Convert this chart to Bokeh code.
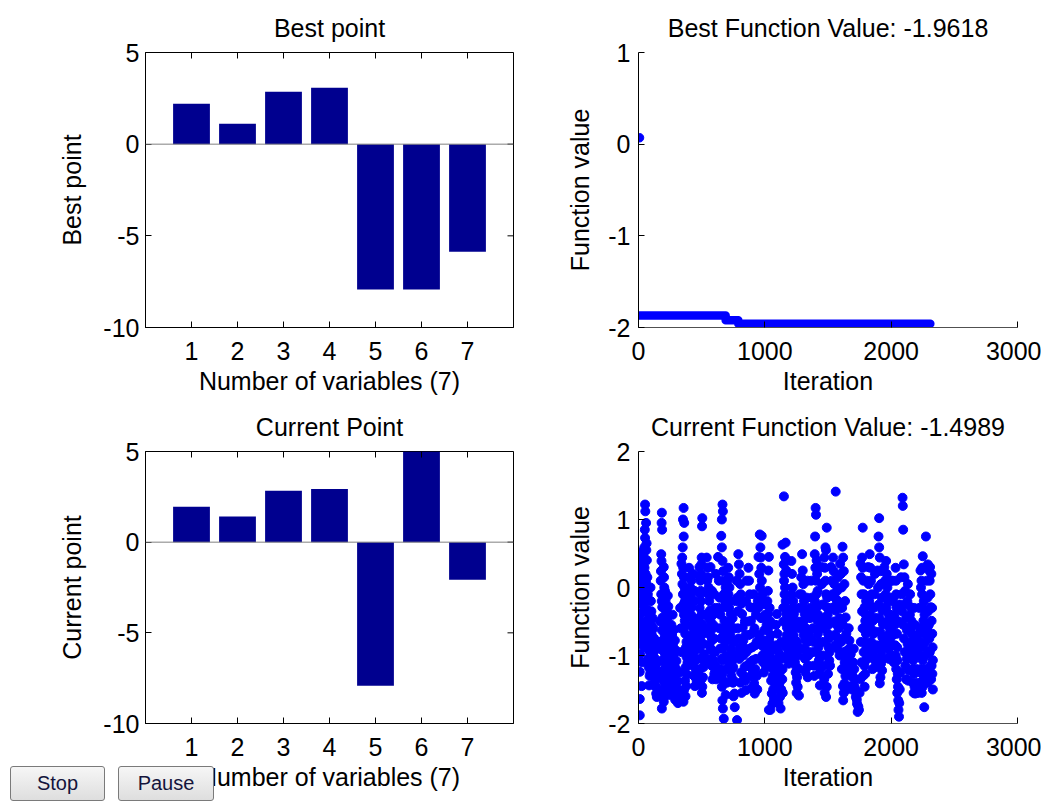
import math
from bokeh.plotting import figure
from bokeh.layouts import column, row
from bokeh.models import Range1d, FixedTicker, Span, Div
from bokeh.embed import file_html
from bokeh.resources import INLINE

FONT = "Liberation Sans"
FS = "25px"
BAR_COLOR = "#00008F"
DOT_COLOR = "#0000FF"

# ---------------- data ----------------
variables = [1, 2, 3, 4, 5, 6, 7]
best_point = [2.21, 1.11, 2.86, 3.08, -7.93, -7.93, -5.87]
current_point = [1.96, 1.41, 2.83, 2.93, -7.92, 5.0, -2.07]

best_title = "Best Function Value: -1.9618"
current_title = "Current Function Value: -1.4989"
button_labels = ["Stop", "Pause"]

bar_xlim = (0, 8)
bar_yticks = [-10, -5, 0, 5]
iter_ticks = [0, 1000, 2000, 3000]
best_fv_ticks = [-2, -1, 0, 1]
cur_fv_ticks = [-2, -1, 0, 1, 2]

# best function value: initial point and the step levels (iteration where level starts)
best_init_iter = [8]
best_init_val = [0.07]
best_step_iter = [8, 690, 790, 2310]
best_step_val = [-1.87, -1.92, -1.96, -1.96]

# current function value samples (iteration, value), read column by column
current_pts = [
    (10, -1.88), (10, -1.64), (10, -1.24), (12, -0.98), (14, -0.83), (10, -0.60), (14, -0.39), (16, -0.20),
    (13, -0.07), (15, 0.00), (18, 0.07), (16, 0.15), (20, 0.27), (22, 0.37), (24, 0.52),
    (52, 1.22), (54, 1.12), (50, 0.85), (52, 0.73), (46, 0.59), (40, 0.46), (44, 0.39), (48, 0.29),
    (56, 0.20), (60, 0.07), (58, -0.05), (62, -0.20), (66, -0.32), (70, -0.49), (68, -0.63), (64, -0.78),
    (72, -0.90), (76, -1.05), (80, -1.17), (84, -1.44), (30, 0.30), (34, 0.10), (36, -0.12), (38, -0.35),
    (42, -0.55), (45, -0.72), (48, -0.88), (88, -1.30),
    (100, -0.55), (104, -0.68), (110, -0.83), (115, -0.98), (120, -1.12), (126, -1.27), (130, -1.37),
    (135, -1.46), (140, -1.56), (145, -1.61), (98, -0.20), (102, -0.35), (95, 0.00),
    (185, 1.10), (183, 0.95), (187, 0.85), (180, 0.49), (182, 0.39), (178, 0.24), (176, 0.10), (180, -0.10),
    (184, -0.20), (188, -0.29), (190, -0.44), (186, -0.63), (192, -0.78), (194, -0.93), (190, -1.07),
    (196, -1.22), (200, -1.39), (198, -1.51), (185, -1.78), (170, -0.50), (165, -0.80), (172, -1.30),
    (210, -0.05), (214, -0.20), (218, -0.35), (222, -0.48), (226, -0.62), (230, -0.72), (234, -0.85),
    (238, -0.98), (242, -1.10), (246, -1.25), (250, -1.40), (240, -1.50), (228, -1.15), (216, -0.60), (205, -0.30),
    (260, -0.55), (266, -0.70), (272, -0.85), (278, -1.00), (284, -1.15), (290, -1.28), (296, -1.40),
    (302, -1.52), (308, -1.62), (312, -1.70), (275, -1.30), (285, -1.55), (300, -1.20), (270, -0.40),
    (357, 1.17), (352, 1.00), (362, 0.95), (358, 0.75), (350, 0.59), (346, 0.44), (354, 0.29), (360, 0.15),
    (364, 0.00), (368, -0.20), (372, -0.34), (366, -0.49), (370, -0.68), (376, -0.88), (380, -1.02),
    (374, -1.17), (368, -1.37), (360, -1.51), (356, -1.68), (330, -0.30), (335, -0.60), (340, -0.95), (325, -1.25),
    (400, 0.29), (405, 0.15), (410, 0.00), (415, -0.15), (420, -0.29), (425, -0.44), (430, -0.59),
    (435, -0.68), (440, -0.78), (445, -0.93), (450, -1.07), (455, -1.22), (460, -1.37), (395, -0.40),
    (412, -0.75), (425, -1.00), (438, -0.20), (448, -0.50),
    (505, 1.02), (503, 0.90), (500, 0.44), (498, 0.34), (495, 0.20), (490, 0.10), (492, -0.05), (496, -0.20),
    (500, -0.39), (505, -0.54), (510, -0.68), (515, -0.83), (520, -0.98), (515, -1.17), (510, -1.32),
    (505, -1.46), (475, -0.60), (480, -0.90), (485, -1.20),
    (540, 0.44), (545, 0.29), (550, 0.15), (555, 0.00), (560, -0.20), (565, -0.34), (570, -0.49),
    (575, -0.63), (580, -0.78), (585, -0.93), (590, -1.07), (595, -1.17), (600, -1.27), (548, -0.60),
    (560, -0.85), (575, -1.05), (590, -0.40), (600, -0.10),
    (665, 1.22), (668, 1.12), (660, 1.00), (655, 0.76), (660, 0.59), (665, 0.39), (670, 0.24), (672, 0.10),
    (675, -0.10), (678, -0.29), (680, -0.49), (676, -0.68), (672, -0.88), (668, -1.07), (664, -1.27),
    (660, -1.46), (664, -1.66), (668, -1.78), (675, -1.93), (640, -0.60), (645, -0.90), (650, -1.20), (635, -0.30),
    (710, 0.29), (715, 0.15), (720, 0.00), (725, -0.20), (730, -0.39), (735, -0.59), (740, -0.78),
    (745, -0.98), (750, -1.17), (755, -1.37), (760, -1.56), (762, -1.76), (720, -1.10), (735, -1.30), (745, -0.45),
    (790, 0.49), (795, 0.34), (800, 0.20), (805, 0.05), (810, -0.10), (815, -0.24), (820, -0.39),
    (825, -0.59), (830, -0.78), (835, -0.98), (840, -1.17), (845, -1.37), (850, -1.51), (780, -1.95),
    (785, -0.60), (800, -0.90), (812, -1.25),
    (870, 0.29), (875, 0.10), (880, -0.10), (885, -0.29), (890, -0.49), (895, -0.68), (900, -0.88),
    (905, -1.07), (910, -1.27), (915, -1.41), (920, -1.56), (930, -0.40), (935, -0.80), (925, -1.20),
    (960, 0.78), (975, 0.76), (965, 0.59), (968, 0.44), (972, 0.29), (976, 0.10), (980, -0.10), (985, -0.24),
    (990, -0.44), (995, -0.63), (1000, -0.78), (1005, -0.93), (1010, -1.17), (950, -0.30), (955, -0.70),
    (1020, -0.20), (1025, -0.39), (1030, -0.59), (1035, -0.78), (1040, -0.98), (1045, -1.17), (1050, -1.37),
    (1055, -1.56), (1060, -1.71), (1032, -1.80), (1070, -1.20), (1075, -0.90),
    (1095, -0.39), (1100, -0.68), (1105, -0.93), (1110, -1.17), (1115, -1.41), (1120, -1.61), (1125, -1.78),
    (1130, -1.50), (1140, -1.20),
    (1151, 1.34), (1165, 0.66), (1140, 0.63), (1150, 0.34), (1155, 0.20), (1160, 0.00), (1165, -0.20),
    (1170, -0.39), (1175, -0.59), (1180, -0.78), (1185, -0.98), (1190, -1.12), (1145, -0.50), (1158, -0.85),
    (1210, 0.39), (1215, 0.20), (1220, 0.00), (1225, -0.20), (1230, -0.39), (1235, -0.59), (1240, -0.78),
    (1245, -0.98), (1250, -1.17), (1255, -1.32), (1260, -1.46), (1270, -1.59), (1265, -0.50), (1275, -0.10),
    (1295, 0.49), (1300, 0.25), (1305, 0.05), (1310, -0.20), (1315, -0.39), (1320, -0.59), (1325, -0.78),
    (1330, -0.98), (1335, -1.17), (1340, -1.32), (1350, -0.65), (1355, -0.30), (1345, -1.00),
    (1402, 1.17), (1405, 1.07), (1398, 0.75), (1395, 0.49), (1400, 0.29), (1404, 0.10), (1408, -0.10),
    (1412, -0.29), (1416, -0.49), (1420, -0.68), (1424, -0.88), (1428, -1.07), (1432, -1.27), (1436, -1.44),
    (1375, -0.40), (1385, -0.80),
    (1490, 0.88), (1480, 0.59), (1470, 0.44), (1475, 0.29), (1480, 0.10), (1485, -0.10), (1490, -0.29),
    (1495, -0.49), (1500, -0.68), (1505, -0.88), (1510, -1.07), (1500, -1.27), (1490, -1.46), (1485, -1.61),
    (1455, -0.60), (1460, -1.00),
    (1561, 1.41), (1540, 0.44), (1545, 0.24), (1550, 0.05), (1555, -0.15), (1560, -0.34), (1565, -0.54),
    (1570, -0.73), (1575, -0.90), (1580, -0.20), (1590, -0.45),
    (1615, 0.60), (1620, 0.44), (1625, 0.24), (1630, 0.05), (1635, -0.20), (1640, -0.44), (1645, -0.68),
    (1650, -0.93), (1640, -1.17), (1630, -1.41), (1620, -1.66), (1610, -1.20), (1605, -0.80),
    (1670, -0.78), (1680, -0.98), (1690, -1.17), (1700, -1.32), (1710, -1.46), (1720, -1.61), (1730, -1.71),
    (1735, -1.83), (1745, -1.80), (1690, -1.50), (1660, -1.25),
    (1775, 0.88), (1770, 0.44), (1775, 0.29), (1780, 0.10), (1785, -0.10), (1790, -0.29), (1795, -0.49),
    (1800, -0.68), (1805, -0.88), (1800, -1.07), (1795, -1.27), (1790, -1.46), (1760, -0.80), (1765, -1.10),
    (1830, 0.49), (1835, 0.29), (1840, 0.10), (1845, -0.10), (1850, -0.29), (1855, -0.49), (1860, -0.68),
    (1865, -0.88), (1870, -1.07), (1875, -1.17), (1880, -0.45),
    (1905, 1.02), (1900, 0.75), (1905, 0.59), (1910, 0.44), (1915, 0.24), (1920, 0.05), (1925, -0.15),
    (1930, -0.34), (1935, -0.54), (1930, -0.73), (1925, -0.93), (1920, -1.12), (1915, -1.32), (1910, -1.41),
    (1960, 0.39), (1965, 0.20), (1970, 0.00), (1975, -0.20), (1980, -0.39), (1985, -0.59), (1990, -0.78),
    (1995, -0.98), (2000, -0.60), (2005, -0.20),
    (2035, 0.29), (2038, 0.10), (2040, -0.10), (2042, -0.29), (2044, -0.49), (2046, -0.68), (2048, -0.88),
    (2050, -1.07), (2052, -1.27), (2054, -1.46), (2056, -1.66), (2058, -1.80), (2062, -1.90), (2015, -0.70),
    (2020, -1.10),
    (2090, 1.32), (2092, 1.20), (2095, 0.85), (2100, 0.34), (2105, 0.15), (2110, -0.05), (2115, -0.24),
    (2120, -0.44), (2125, -0.63), (2130, -0.83), (2135, -1.02), (2140, -1.22), (2135, -1.37),
    (2150, -0.10), (2155, -0.29), (2160, -0.49), (2165, -0.68), (2170, -0.88), (2175, -1.07), (2180, -1.27),
    (2185, -1.46), (2190, -1.56), (2200, -1.20), (2205, -0.70),
    (2275, 0.75), (2250, 0.46), (2245, 0.29), (2240, 0.10), (2245, -0.10), (2250, -0.29), (2255, -0.49),
    (2260, -0.68), (2255, -0.88), (2250, -1.07), (2245, -1.27), (2250, -1.46), (2262, -1.76), (2230, -0.60),
    (2225, -1.00),
    (2290, 0.34), (2300, 0.25), (2305, 0.10), (2310, -0.10), (2315, -0.29), (2320, -0.49), (2325, -0.68),
    (2328, -0.88), (2330, -1.07), (2326, -1.27), (2330, -1.50), (2285, -0.60), (2295, -0.95),
]

# further samples read from the dense parts of the cloud
current_pts_dense = [
    (25, -1.45), (28, -1.10), (26, -0.70), (30, -0.50), (28, -0.25), (32, 0.20), (34, 0.45),
    (62, 0.55), (66, 0.40), (70, 0.15), (74, -0.10), (78, -0.40), (82, -0.58), (86, -0.75), (90, -0.95),
    (92, -1.10), (94, -1.25), (60, 0.95), (64, 0.65),
    (112, -0.45), (118, -0.60), (124, -0.75), (128, -0.90), (134, -1.05), (138, -1.20), (142, -1.33),
    (148, -1.48), (152, -1.30), (150, -1.10), (156, -0.90),
    (200, 0.30), (202, 0.15), (204, 0.00), (206, -0.55), (208, -0.70), (210, -0.88), (212, -1.00),
    (214, -1.15), (216, -1.30), (218, -1.45), (205, -1.60), (200, -1.68),
    (232, -0.12), (236, -0.28), (240, -0.42), (244, -0.55), (248, -0.68), (252, -0.80), (256, -0.92),
    (258, -1.05), (255, -1.18), (252, -1.32), (248, -1.45), (244, -1.58),
    (282, -0.62), (288, -0.78), (294, -0.92), (300, -1.08), (306, -1.25), (312, -1.38), (316, -1.50),
    (320, -1.62), (290, -1.65), (296, -1.58),
    (340, 0.35), (344, 0.20), (348, 0.05), (352, -0.10), (356, -0.25), (360, -0.40), (364, -0.58),
    (380, -0.80), (384, -0.95), (388, -1.10), (384, -1.28), (378, -1.45), (372, -1.60),
    (402, -0.10), (408, -0.25), (416, -0.40), (422, -0.55), (428, -0.85), (432, -1.15), (440, -1.30),
    (446, -1.45), (452, -0.65), (458, -0.85), (464, -1.05), (468, -1.25), (418, 0.10), (430, 0.20), (444, -0.05),
    (482, 0.30), (486, 0.15), (488, -0.10), (484, -0.30), (478, -0.45), (488, -0.75), (494, -1.05),
    (498, -1.35), (502, -1.55), (520, -0.60), (525, -0.40), (528, -1.10),
    (544, 0.10), (552, -0.10), (558, -0.45), (566, -0.70), (572, -0.90), (580, -1.15), (586, -1.35),
    (592, -0.55), (598, -0.75), (604, -0.95), (610, -1.15), (614, -1.35), (608, -0.30), (612, 0.20),
    (570, 0.30), (582, -0.05),
    (630, 0.45), (636, 0.10), (642, -0.15), (648, -0.40), (652, -0.75), (656, -1.05), (662, -1.35),
    (684, -0.60), (688, -0.80), (692, -1.00), (696, -1.20), (700, -1.40), (690, -1.58), (686, -0.20), (690, 0.00),
    (705, 0.10), (712, -0.10), (718, -0.30), (724, -0.50), (728, -0.70), (732, -0.90), (738, -1.10),
    (742, -1.20), (748, -1.40), (752, -1.60), (756, -0.60), (760, -0.80), (765, -1.00), (768, -0.20),
    (776, 0.10), (782, -0.15), (788, -0.35), (794, -0.75), (798, -1.05), (806, -1.40), (816, -1.55),
    (822, -0.85), (828, -1.00), (834, -1.30), (842, -0.50), (848, -0.70), (854, -0.95), (858, -1.15),
    (852, -0.20), (856, 0.10),
    (866, -0.50), (872, -0.70), (878, -0.90), (884, -1.10), (888, -1.30), (894, -1.48), (900, -1.20),
    (906, -0.30), (912, -0.10), (918, -0.60), (924, -0.85), (930, -1.05), (936, -1.30), (940, -1.50), (944, -0.20),
    (950, 0.45), (956, 0.20), (962, 0.00), (966, -0.20), (970, -0.45), (975, -0.85), (980, -1.00),
    (986, -1.10), (992, -1.25), (998, -1.05), (1004, -0.40), (1010, -0.25), (1014, -0.55), (1018, -0.85),
    (1024, -0.05), (1028, 0.25), (1032, 0.45), (1038, -0.30), (1044, -0.50), (1048, -0.70), (1052, -0.90),
    (1058, -1.10), (1062, -1.30), (1066, -1.50), (1072, -1.65), (1078, -1.40), (1082, -1.10), (1044, -1.80),
    (1088, -0.55), (1092, -0.85), (1096, -1.05), (1100, -1.30), (1104, -1.50), (1108, -1.70), (1118, -1.25),
    (1124, -1.00), (1130, -0.80), (1134, -1.05), (1138, -1.35), (1142, -1.55), (1146, -0.30),
    (1152, 0.10), (1156, -0.10), (1162, -0.30), (1168, -0.50), (1172, -0.70), (1178, -0.90), (1182, -1.05),
    (1188, -0.60), (1194, -0.40), (1198, -0.80), (1202, -1.00), (1160, 0.45), (1170, 0.25),
    (1212, -0.10), (1218, -0.30), (1222, -0.50), (1228, -0.70), (1232, -0.90), (1238, -1.10), (1244, -1.25),
    (1248, -1.40), (1252, -1.55), (1258, -0.80), (1262, -1.00), (1268, -1.20), (1272, -0.30), (1278, -0.60),
    (1282, -0.90),
    (1288, 0.15), (1292, -0.10), (1298, -0.30), (1302, -0.50), (1308, -0.70), (1312, -0.90), (1318, -1.05),
    (1322, -1.25), (1328, -0.45), (1334, -0.15), (1338, 0.10), (1342, -0.80), (1348, -1.15), (1352, -0.95),
    (1358, -0.45), (1362, -0.75),
    (1368, 0.10), (1372, -0.15), (1378, -0.60), (1382, -0.95), (1388, -1.15), (1392, -1.30), (1396, -0.20),
    (1410, 0.40), (1414, 0.20), (1418, -0.05), (1422, -0.40), (1426, -0.60), (1430, -0.80), (1434, -1.00),
    (1438, -1.20), (1440, -0.50),
    (1448, 0.30), (1452, 0.05), (1458, -0.25), (1462, -0.80), (1466, -1.15), (1470, -1.35), (1474, -1.55),
    (1478, -0.45), (1484, 0.55), (1494, -0.15), (1498, -0.40), (1504, -0.55), (1508, -0.75), (1512, -0.95),
    (1516, -1.15), (1520, -0.30),
    (1525, 0.30), (1530, 0.10), (1535, -0.10), (1540, -0.30), (1548, -0.50), (1552, -0.70), (1558, -0.85),
    (1566, -0.25), (1572, -0.05), (1578, 0.15), (1584, -0.60), (1588, -0.80), (1592, -1.00), (1596, 0.35),
    (1598, -0.30),
    (1602, 0.20), (1608, 0.00), (1612, -0.30), (1618, -0.55), (1622, -0.75), (1628, -0.95), (1632, -1.10),
    (1638, -1.30), (1644, -1.50), (1650, -1.25), (1655, -1.05), (1625, -1.55), (1618, -1.45),
    (1664, -0.60), (1668, -0.90), (1674, -1.10), (1678, -1.30), (1684, -1.45), (1694, -1.30), (1698, -1.10),
    (1704, -0.90), (1708, -1.20), (1714, -1.35), (1718, -1.50), (1724, -1.55), (1728, -1.65), (1740, -1.75),
    (1750, -1.55), (1755, -1.35),
    (1758, 0.35), (1762, 0.15), (1766, -0.10), (1770, -0.35), (1774, -0.60), (1778, -1.30), (1782, -0.95),
    (1788, -1.15), (1792, -0.80), (1798, -0.40), (1802, -0.20), (1806, 0.10), (1810, -0.55), (1812, -1.00),
    (1818, 0.30), (1822, 0.05), (1826, -0.20), (1832, -0.40), (1838, -0.60), (1842, -0.80), (1848, -1.00),
    (1852, -1.20), (1858, -0.95), (1862, -0.30), (1868, -0.10), (1872, 0.20), (1876, -0.65), (1884, -0.85),
    (1888, -1.05),
    (1892, 0.25), (1896, 0.00), (1902, -0.25), (1908, -0.45), (1912, -0.65), (1918, -0.85), (1922, -1.00),
    (1928, -1.22), (1934, -1.05), (1938, -0.80), (1942, -0.30), (1946, 0.30),
    (1952, 0.10), (1956, -0.10), (1962, -0.30), (1968, -0.50), (1972, -0.70), (1978, -0.90), (1982, -1.05),
    (1988, -0.40), (1994, -0.15), (1998, 0.10), (2002, -0.85), (2008, -0.45),
    (2012, 0.10), (2018, -0.15), (2024, -0.40), (2028, -0.55), (2032, -0.85), (2036, -1.00), (2040, -1.20),
    (2044, -1.35), (2048, -1.55), (2064, -1.70), (2068, -1.50), (2072, -1.25), (2060, -0.50), (2066, -0.25),
    (2078, 0.15), (2082, -0.10), (2086, -0.35), (2096, -0.55), (2102, -0.75), (2108, -0.95), (2112, -1.15),
    (2118, -1.35), (2124, -1.05), (2128, -0.20), (2132, 0.05), (2138, -0.60), (2142, -0.90),
    (2148, -0.40), (2152, -0.60), (2158, -0.80), (2162, -1.00), (2168, -1.20), (2172, -1.40), (2178, -1.55),
    (2182, -0.30), (2188, -0.55), (2194, -0.80), (2198, -1.00), (2208, -1.40), (2212, -1.55), (2216, -0.90),
    (2222, -0.30), (2228, -0.80), (2234, -1.20), (2238, -1.40), (2242, -1.55), (2258, -0.20), (2264, -0.40),
    (2268, -0.60), (2272, -0.80), (2270, -1.00), (2266, -1.20), (2262, -1.35), (2236, 0.00), (2232, 0.25),
    (2282, 0.10), (2288, -0.15), (2292, -0.35), (2298, -0.55), (2302, -0.75), (2306, -0.95), (2312, -1.15),
    (2316, -1.35), (2320, -1.15), (2324, -0.30), (2318, 0.20), (2308, 0.30), (2296, -1.25), (2290, -1.40),
]

all_current = current_pts + current_pts_dense
cur_iter = [t for t, v in all_current]
cur_val = [v for t, v in all_current]


# ---------------- helpers ----------------
def make_fig(w, h, bl, br, bt, bb, xr, yr, title):
    p = figure(width=w, height=h, x_range=Range1d(*xr), y_range=Range1d(*yr),
               output_backend="svg", toolbar_location=None, title=title,
               min_border_left=bl, min_border_right=br, min_border_top=bt, min_border_bottom=bb)
    p.title.text_font = FONT
    p.title.text_font_size = FS
    p.title.text_font_style = "normal"
    p.title.text_color = "black"
    p.title.text_line_height = 1.0
    p.title.align = "center"
    p.title.standoff = 21
    p.grid.visible = False
    p.background_fill_color = "white"
    p.border_fill_color = "white"
    return p


def style_axis(ax, ticks, label, label_standoff, tick_standoff, line_color="black"):
    ax.ticker = FixedTicker(ticks=ticks)
    ax.major_label_overrides = {t: str(t) for t in ticks}
    ax.major_tick_in = 6
    ax.major_tick_out = 0
    ax.minor_tick_line_color = None
    ax.axis_line_color = line_color
    ax.major_tick_line_color = "black"
    ax.major_label_text_font = FONT
    ax.major_label_text_font_size = FS
    ax.major_label_text_color = "black"
    ax.major_label_standoff = tick_standoff
    ax.axis_label = label
    ax.axis_label_text_font = FONT
    ax.axis_label_text_font_size = FS
    ax.axis_label_text_font_style = "normal"
    ax.axis_label_text_color = "black"
    ax.axis_label_standoff = label_standoff


def bar_plot(values, title, ylabel, h, bt, bb):
    p = make_fig(530, h, 145, 17, bt, bb, bar_xlim, (bar_yticks[0], bar_yticks[-1]), title)
    p.outline_line_color = "black"
    p.vbar(x=variables, top=values, bottom=0, width=0.8, color=BAR_COLOR, line_color=None)
    p.add_layout(Span(location=0, dimension="width", line_color="#808080", line_width=1))
    # inward tick marks on the top and right edges of the box (half of each mark is clipped by the frame)
    p.scatter(x=variables, y=[bar_yticks[-1]] * len(variables), marker="dash", size=12,
              angle=math.pi / 2, line_color="black", line_width=1)
    p.scatter(x=[bar_xlim[1]] * len(bar_yticks), y=bar_yticks, marker="dash", size=12,
              line_color="black", line_width=1)
    style_axis(p.xaxis[0], variables, "Number of variables (7)", 4, 14)
    style_axis(p.yaxis[0], bar_yticks, ylabel, 14, 6)
    return p


# ---------------- top-left: best point ----------------
p1 = bar_plot(best_point, "Best point", "Best point", 400, 52, 73)

# ---------------- top-right: best function value ----------------
p2 = make_fig(511, 400, 108, 24, 52, 73, (iter_ticks[0], iter_ticks[-1]), (best_fv_ticks[0], best_fv_ticks[-1]), best_title)
p2.outline_line_color = None
p2.step(best_step_iter, best_step_val, mode="after", line_width=8.5, line_cap="round",
        line_join="round", color=DOT_COLOR)
p2.scatter(best_init_iter, best_init_val, size=8.5, color=DOT_COLOR)
style_axis(p2.xaxis[0], iter_ticks, "Iteration", 4, 14, line_color="#505050")
style_axis(p2.yaxis[0], best_fv_ticks, "Function value", 11, 8)

# ---------------- bottom-left: current point ----------------
p3 = bar_plot(current_point, "Current Point", "Current point", 401, 49, 76)

# ---------------- bottom-right: current function value ----------------
p4 = make_fig(511, 401, 108, 24, 50, 78, (iter_ticks[0], iter_ticks[-1]), (cur_fv_ticks[0], cur_fv_ticks[-1]), current_title)
p4.outline_line_color = None
p4.scatter(cur_iter, cur_val, size=9, color=DOT_COLOR)
style_axis(p4.xaxis[0], iter_ticks, "Iteration", 4, 14, line_color="#505050")
style_axis(p4.yaxis[0], cur_fv_ticks, "Function value", 11, 8)

# ---------------- Stop / Pause buttons of the window ----------------
btn_css = ("position:absolute;top:0;height:35px;box-sizing:border-box;"
           "font-family:'Liberation Sans';font-size:20px;color:#14143c;"
           "background:linear-gradient(#f6f6f6,#dedede);border:1px solid #7a7a7a;"
           "border-radius:3px;padding:0;margin:0;")
btn_html = ('<div style="position:relative;width:215px;height:35px;">'
            f'<button style="{btn_css}left:10px;width:95px;">{button_labels[0]}</button>'
            f'<button style="{btn_css}left:118px;width:96px;">{button_labels[1]}</button>'
            '</div>')
buttons = Div(text=btn_html, width=215, height=35, margin=(0, 0, 0, 0),
              styles={"position": "absolute", "left": "0px", "top": "766px", "z-index": "10"})

layout = column(row(p1, p2), row(p3, p4), buttons)
open("out.html", "w").write(file_html(layout, INLINE))
